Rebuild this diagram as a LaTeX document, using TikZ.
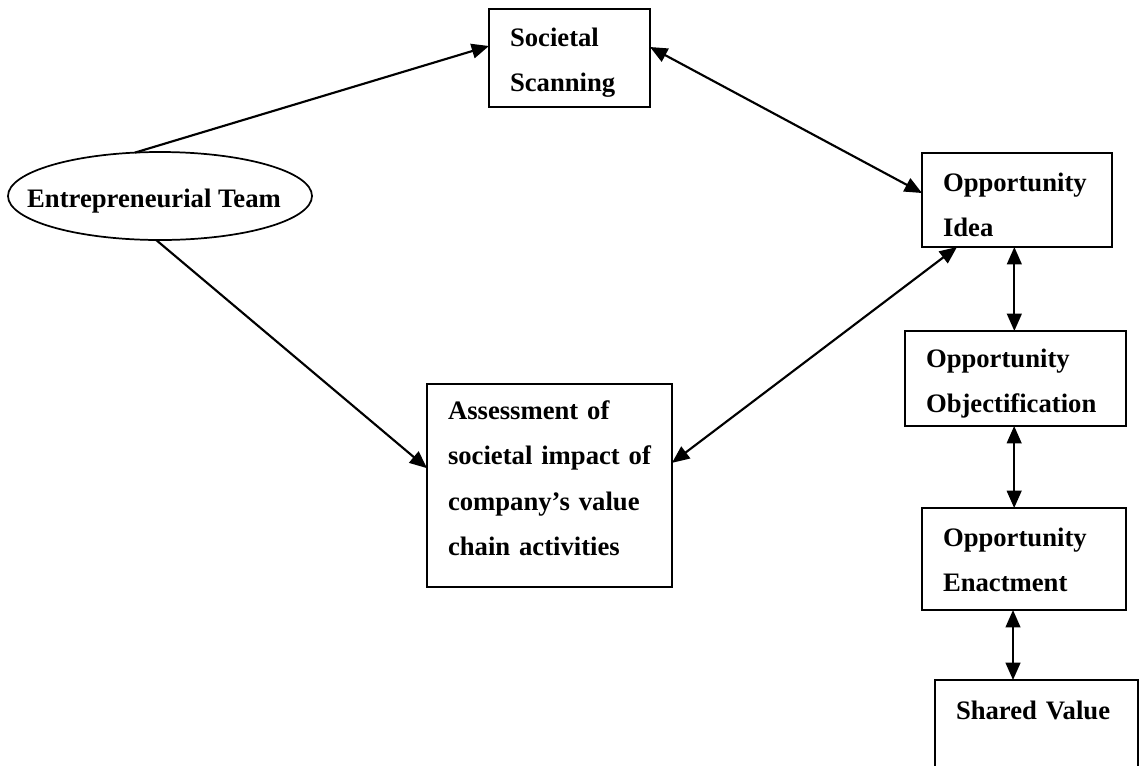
\documentclass[tikz,border=0pt]{standalone}
\usepackage{fontspec}
\setmainfont{Liberation Serif}
\usetikzlibrary{arrows.meta,shapes.geometric}

\tikzset{
  lbl/.style={font=\bfseries\fontsize{20}{34}\selectfont},
  box/.style={lbl, draw, line width=1.3pt, rectangle, anchor=north west,
    inner xsep=15.75pt, inner ysep=0pt, outer sep=0pt, align=left},
  oval/.style={lbl, draw, line width=1.3pt, ellipse, inner sep=0pt, outer sep=0pt},
  tip/.tip={Triangle[length=13pt,width=11pt]},
  link/.style={line width=1.6pt, -tip},
  both/.style={line width=1.6pt, tip-tip},
}

\begin{document}
\begin{tikzpicture}[x=0.75pt, y=-0.75pt]
  \useasboundingbox (0,0) rectangle (1139,765);
  \clip (0,0) rectangle (1139,765);

  % actor
  \node[oval, minimum width=228pt, minimum height=66pt] (team) at (160,196)
    {\makebox[0pt]{\kern-9pt\raisebox{-4pt}[\height][\depth]{Entrepreneurial Team}}};

  % boxes: text height = first baseline below the top edge,
  % text depth = the rest of the box height
  \node[box, text width=89.25pt, text height=28.2pt, text depth=45.3pt] (soc) at (489,9)
    {Societal\\Scanning};
  \node[box, text width=111pt, text height=28.95pt, text depth=41.55pt] (idea) at (922,153)
    {Opportunity\\Idea};
  \node[box, text width=134.25pt, text height=27.45pt, text depth=43.8pt] (obj) at (905,331)
    {Opportunity\\Objectification};
  \node[box, text width=121.5pt, text height=28.95pt, text depth=47.55pt] (enact) at (922,508)
    {Opportunity\\Enactment};
  \node[box, text width=120.75pt, text height=29.7pt, text depth=45.3pt] (shared) at (935,680)
    {Shared Value};
  \node[box, text width=152.25pt, text height=26.7pt, text depth=125.55pt] (assess) at (427,384)
    {Assessment of\\societal impact of\\company’s value\\chain activities};

  % connectors
  \draw[link] (team.120) -- ([yshift=9pt]soc.west);
  \draw[link] (team.265) -- ([yshift=13pt]assess.west);
  \draw[both] ([yshift=8.25pt]soc.east) -- ([yshift=5.25pt]idea.west);
  \draw[both] ([xshift=-45pt]idea.south) -- ([yshift=17pt]assess.east);
  \draw[both] ([xshift=-2pt]idea.south) -- ([xshift=-2pt]idea.south |- obj.north);
  \draw[both] ([xshift=-1pt]obj.south) -- ([xshift=-1pt]obj.south |- enact.north);
  \draw[both] ([xshift=-8.25pt]enact.south) -- ([xshift=-8.25pt]enact.south |- shared.north);
\end{tikzpicture}
\end{document}
